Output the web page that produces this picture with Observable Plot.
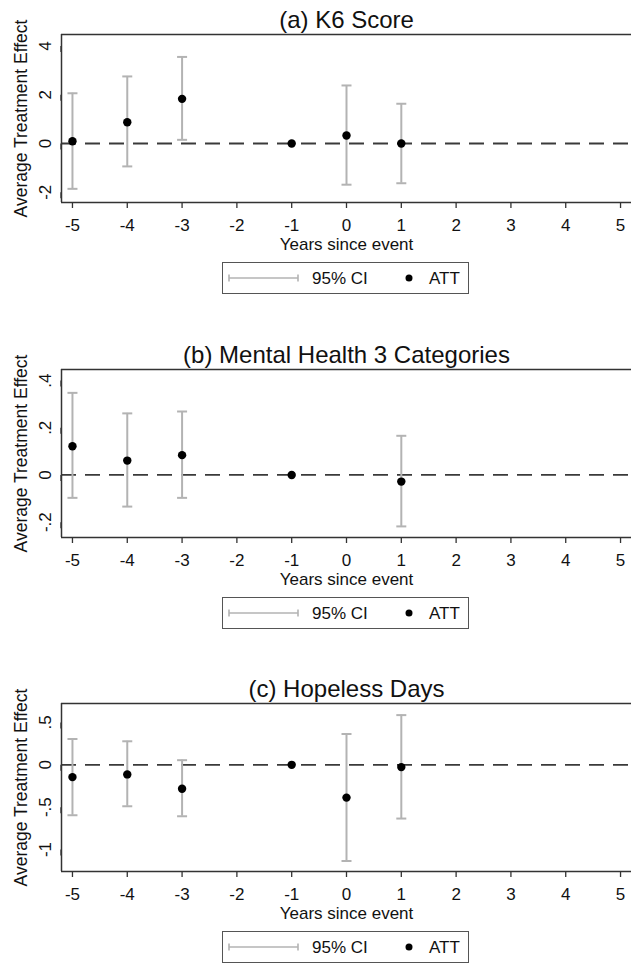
<!DOCTYPE html>
<html>
<head>
<meta charset="utf-8">
<script src="https://cdn.jsdelivr.net/npm/d3@7"></script>
<script src="https://cdn.jsdelivr.net/npm/@observablehq/plot@0.6"></script>
<style>
  html, body { margin: 0; padding: 0; background: #fff; overflow: hidden; }
  #root { position: relative; width: 631px; height: 964px; }
  .panel { position: absolute; left: 0; width: 631px; height: 335px; }
  .legend { position: absolute; left: 222px; top: 262px; width: 245px; height: 30px;
            border: 1.3px solid #555; background: #fff; box-sizing: content-box; }
  .legend svg { display: block; }
</style>
</head>
<body>
<div id="root"></div>
<script>
// ---- data ----
const titles = ["(a) K6 Score", "(b) Mental Health 3 Categories", "(c) Hopeless Days"];

const yearsA = [-5, -4, -3, -1, 0, 1];
const attA   = [0.09, 0.87, 1.83, 0, 0.33, 0.00];
const loA    = [-1.86, -0.94, 0.15, null, -1.69, -1.63];
const hiA    = [2.06, 2.75, 3.55, null, 2.38, 1.63];

const yearsB = [-5, -4, -3, -1, 1];
const attB   = [0.122, 0.061, 0.084, 0, -0.028];
const loB    = [-0.097, -0.134, -0.097, null, -0.218];
const hiB    = [0.348, 0.261, 0.269, null, 0.166];

const yearsC = [-5, -4, -3, -1, 0, 1];
const attC   = [-0.145, -0.113, -0.282, 0, -0.387, -0.027];
const loC    = [-0.595, -0.489, -0.607, null, -1.135, -0.634];
const hiC    = [0.305, 0.278, 0.055, null, 0.364, 0.587];

const xTicks      = [-5, -4, -3, -2, -1, 0, 1, 2, 3, 4, 5];
const xTickLabels = ["-5", "-4", "-3", "-2", "-1", "0", "1", "2", "3", "4", "5"];

const yTicksA = [-2, 0, 2, 4];          const yLabelsA = ["-2", "0", "2", "4"];
const yTicksB = [-0.2, 0, 0.2, 0.4];    const yLabelsB = ["-.2", "0", ".2", ".4"];
const yTicksC = [-1, -0.5, 0, 0.5];     const yLabelsC = ["-1", "-.5", "0", ".5"];

const xLabel = "Years since event";
const yLabel = "Average Treatment Effect";
const legendLabels = ["95% CI", "ATT"];

const FONT = "'Liberation Sans', Arial, Helvetica, sans-serif";
const CI_COLOR = "#b3b3b3";

// horizontal cap symbol for CI ends (width = 2r)
const capSymbol = {
  draw(ctx, size) {
    const w = Math.sqrt(size / Math.PI);
    ctx.moveTo(-w, 0);
    ctx.lineTo(w, 0);
  }
};

function makePanel(title, years, att, lo, hi, yDomain, yTicks, yLabels) {
  const data = years.map((x, i) => ({x, att: att[i], lo: lo[i], hi: hi[i]}));
  const ci = data.filter(d => d.lo != null);
  const xDomain = [-5.2, 5.2];
  return Plot.plot({
    width: 631, height: 252,
    marginTop: 34, marginBottom: 50, marginLeft: 61, marginRight: 0,
    style: {fontFamily: FONT, fontSize: "17px", color: "#111", background: "#fff", overflow: "visible"},
    x: {domain: xDomain, label: null},
    y: {domain: yDomain, label: null},
    marks: [
      Plot.ruleY([0], {stroke: "#3a3a3a", strokeWidth: 1.8, strokeDasharray: "15,9"}),
      Plot.ruleX(ci, {x: "x", y1: "lo", y2: "hi", stroke: CI_COLOR, strokeWidth: 2}),
      Plot.dot(ci, {x: "x", y: "lo", symbol: capSymbol, r: 5, stroke: CI_COLOR, strokeWidth: 2, fill: "none"}),
      Plot.dot(ci, {x: "x", y: "hi", symbol: capSymbol, r: 5, stroke: CI_COLOR, strokeWidth: 2, fill: "none"}),
      Plot.dot(data, {x: "x", y: "att", r: 4.2, fill: "#000", stroke: "none"}),
      Plot.axisX({ticks: xTicks, tickFormat: d => xTickLabels[xTicks.indexOf(d)], tickSize: 6,
                  tickPadding: 10, fontSize: 17, label: null, stroke: "#333", strokeWidth: 1.3}),
      Plot.axisY({ticks: yTicks, tickFormat: d => yLabels[yTicks.indexOf(d)], tickSize: 6,
                  tickPadding: 10, rotate: -90, textAnchor: "middle", fontSize: 17, label: null,
                  stroke: "#333", strokeWidth: 1.3}),
      Plot.ruleX([xDomain[0]], {stroke: "#333", strokeWidth: 1.5}),
      Plot.ruleY([yDomain[0], yDomain[1]], {stroke: "#333", strokeWidth: 1.5}),
      Plot.text([title], {frameAnchor: "top", dy: -7, lineAnchor: "bottom", fontSize: 24, fill: "#111"}),
      Plot.text([xLabel], {frameAnchor: "bottom", dy: 47, lineAnchor: "bottom", fontSize: 17, fill: "#111"}),
      Plot.text([yLabel], {frameAnchor: "left", dx: -40, rotate: -90, textAnchor: "middle",
                           lineAnchor: "middle", fontSize: 17.5, fill: "#111"})
    ]
  });
}

function makeLegend() {
  const div = document.createElement("div");
  div.className = "legend";
  const svg = d3.create("svg").attr("width", 245).attr("height", 30)
    .style("font-family", FONT).style("font-size", "17px");
  const cy = 15;
  svg.append("line").attr("x1", 6).attr("x2", 75).attr("y1", cy).attr("y2", cy)
    .attr("stroke", CI_COLOR).attr("stroke-width", 1.6);
  [6, 75].forEach(x => svg.append("line").attr("x1", x).attr("x2", x)
    .attr("y1", cy - 3.5).attr("y2", cy + 3.5).attr("stroke", CI_COLOR).attr("stroke-width", 1.6));
  svg.append("text").attr("x", 89).attr("y", cy + 6).attr("fill", "#111").text(legendLabels[0]);
  svg.append("circle").attr("cx", 186).attr("cy", cy).attr("r", 3.5).attr("fill", "#000");
  svg.append("text").attr("x", 206).attr("y", cy + 6).attr("fill", "#111").text(legendLabels[1]);
  div.appendChild(svg.node());
  return div;
}

const root = document.getElementById("root");
const specs = [
  [titles[0], yearsA, attA, loA, hiA, [-2.42, 4.47], yTicksA, yLabelsA, 0],
  [titles[1], yearsB, attB, loB, hiB, [-0.265, 0.447], yTicksB, yLabelsB, 335],
  [titles[2], yearsC, attC, loC, hiC, [-1.259, 0.724], yTicksC, yLabelsC, 669]
];
for (const [t, yr, a, l, h, dom, yt, yl, top] of specs) {
  const p = document.createElement("div");
  p.className = "panel";
  p.style.top = top + "px";
  p.appendChild(makePanel(t, yr, a, l, h, dom, yt, yl));
  p.appendChild(makeLegend());
  root.appendChild(p);
}
</script>
</body>
</html>
